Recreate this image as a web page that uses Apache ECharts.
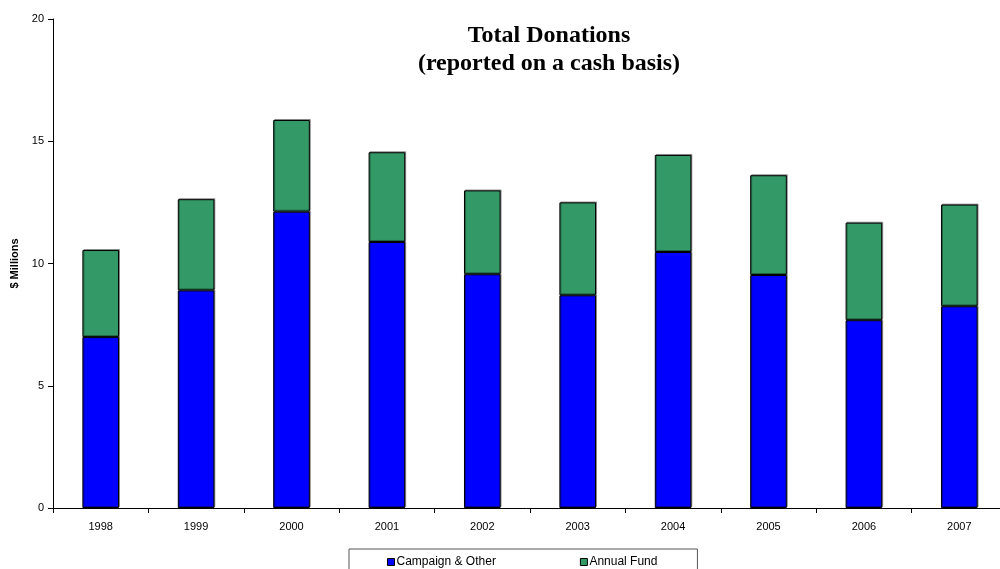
<!DOCTYPE html>
<html>
<head>
<meta charset="utf-8">
<title>Total Donations</title>
<script src="https://cdn.jsdelivr.net/npm/echarts@6/dist/echarts.min.js"></script>
<style>
  html, body { margin: 0; padding: 0; background: #fff; }
  #chart { width: 1000px; height: 569px; }
</style>
</head>
<body>
<div id="chart"></div>
<script>
// Fiscal years shown on the category axis
const years = ['1998', '1999', '2000', '2001', '2002', '2003', '2004', '2005', '2006', '2007'];
// Donations in $ millions, stacked per year
const campaignOther = [6.99, 8.90, 12.12, 10.88, 9.56, 8.70, 10.47, 9.53, 7.68, 8.25];
const annualFund = [3.56, 3.73, 3.75, 3.67, 3.43, 3.80, 3.97, 4.08, 3.99, 4.16];
// Value-axis ticks
const yTicks = [0, 5, 10, 15, 20];

const chart = echarts.init(document.getElementById('chart'), null, { renderer: 'canvas' });

const barStyle = (color) => ({
  color: color,
  borderColor: '#000',
  borderWidth: 1,
  shadowColor: 'rgba(0,0,0,0.35)',
  shadowOffsetX: 1,
  shadowOffsetY: -1
});

chart.setOption({
  animation: false,
  backgroundColor: '#fff',
  textStyle: { fontFamily: 'Liberation Sans, Arial, sans-serif' },
  title: {
    text: 'Total Donations\n(reported on a cash basis)',
    left: 544,
    top: 17,
    textAlign: 'center',
    textStyle: {
      fontFamily: 'Liberation Serif, Times New Roman, serif',
      fontWeight: 'bold',
      fontSize: 24,
      lineHeight: 28,
      color: '#000'
    }
  },
  legend: {
    data: ['Campaign & Other', 'Annual Fund'],
    left: 349,
    top: 549,
    padding: [7, 40, 12, 38],
    itemWidth: 7,
    itemHeight: 7,
    itemGap: 84,
    icon: 'rect',
    borderColor: '#555',
    borderWidth: 1,
    itemStyle: { borderColor: '#000', borderWidth: 1 },
    textStyle: { fontSize: 12, color: '#000', padding: [0, 0, 0, -3] }
  },
  grid: {
    left: 53,
    top: 19,
    width: 954,
    height: 489,
    containLabel: false,
    outerBoundsMode: 'none'
  },
  xAxis: {
    type: 'category',
    data: years,
    boundaryGap: true,
    axisLine: { lineStyle: { color: '#000', width: 1 } },
    axisTick: { show: true, length: 5, lineStyle: { color: '#000' } },
    axisLabel: { color: '#000', fontSize: 11, margin: 13 },
    splitLine: { show: false }
  },
  yAxis: {
    type: 'value',
    min: yTicks[0],
    max: yTicks[yTicks.length - 1],
    interval: yTicks[1] - yTicks[0],
    name: '$ Millions',
    nameLocation: 'middle',
    nameGap: 33,
    nameTextStyle: { fontWeight: 'bold', fontSize: 11, color: '#000' },
    axisLine: { show: true, lineStyle: { color: '#000', width: 1 } },
    axisTick: { show: true, length: 5, lineStyle: { color: '#000' } },
    axisLabel: { color: '#000', fontSize: 11, margin: 9 },
    splitLine: { show: false }
  },
  series: [
    {
      name: 'Campaign & Other',
      type: 'bar',
      stack: 'total',
      barWidth: '38.4%',
      data: campaignOther,
      itemStyle: barStyle('#0000FF')
    },
    {
      name: 'Annual Fund',
      type: 'bar',
      stack: 'total',
      barWidth: '38.4%',
      data: annualFund,
      itemStyle: barStyle('#339966')
    }
  ]
});
</script>
</body>
</html>
